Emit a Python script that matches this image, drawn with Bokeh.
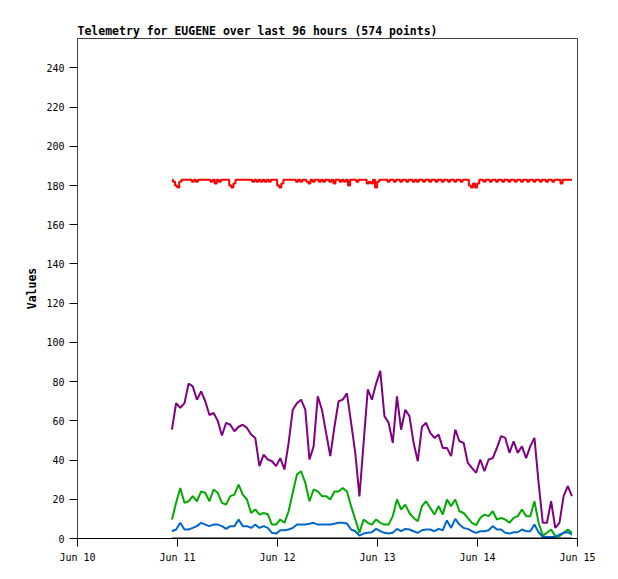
import pandas as pd
from bokeh.plotting import figure
from bokeh.models import Range1d, FixedTicker, DatetimeTickFormatter
from bokeh.embed import file_html
from bokeh.resources import INLINE

title_text = "Telemetry for EUGENE over last 96 hours (574 points)"
y_label = "Values"
y_ticks = [0, 20, 40, 60, 80, 100, 120, 140, 160, 180, 200, 220, 240]
day_ticks = ["2019-06-10", "2019-06-11", "2019-06-12", "2019-06-13", "2019-06-14", "2019-06-15"]
start_time = "2019-06-10 22:40"

# hourly samples (t = 0..96 h from start)
purple_vals = [55.5, 69, 66.6, 69, 79, 77.6, 70.8, 75, 70, 63, 64, 60,
               52.5, 59, 58, 54.7, 57, 58, 56.4, 53, 51.3, 36.9, 42.8, 40.3,
               39.4, 36.9, 41, 35.2, 48.8, 65.7, 69, 70.8, 65.7, 40.3, 47, 72.5,
               65.7, 53.9, 42, 57, 70, 70.8, 74, 59, 43.7, 21.5, 48.8, 76,
               70.8, 79, 85.5, 62.4, 59, 48.8, 72.5, 55.5, 65.7, 62.4, 48.8, 39.4,
               57, 59, 53.9, 51.3, 53, 46.2, 46.2, 42, 55.5, 49.6, 48.8, 38.6,
               36, 33.5, 40.3, 34.3, 40.3, 41, 46.2, 52.2, 51.3, 43.7, 49.6, 43.7,
               47, 41, 47, 51.3, 28.4, 8, 8, 19, 5.4, 8, 21.6, 26.7,
               21.6]

green_vals = [9.7, 18.2, 25.8, 18.2, 19, 21.6, 19, 24, 23.3, 19, 25, 23.3,
              18.2, 17.3, 21.6, 22.4, 27.5, 22.4, 19.9, 13, 14.8, 12.2, 13, 12.4,
              7.1, 7.1, 9.7, 8, 13.9, 23.3, 32.6, 34.3, 28.4, 19, 25, 24,
              21.6, 21.6, 19.9, 24, 24, 25.8, 24, 16.5, 9.7, 2.9, 9.7, 8,
              7.1, 9.7, 8, 7.1, 7.1, 11.4, 19.9, 14.8, 17.3, 13, 10.5, 8.8,
              16.5, 19, 15.6, 12.2, 16.5, 12.2, 19.9, 16.5, 19.9, 13.9, 13, 10.5,
              8, 6.8, 10.5, 12.2, 11.4, 13.9, 9.7, 10.5, 9.7, 8, 10.5, 11.4,
              14.8, 11.4, 11.4, 19, 8, 1.5, 2.9, 4.6, 1.2, 1.2, 2.9, 4.6,
              2.9]

blue_vals = [3.7, 4.6, 8, 4.6, 4.6, 5.4, 6.3, 8, 7.1, 6.3, 7.1, 7.1,
             6.3, 4.9, 6.3, 6.3, 9.7, 6.3, 6.3, 5.4, 7.1, 5.4, 6.3, 5.4,
             2.9, 2.5, 4.2, 4.2, 4.6, 5.4, 7.1, 7.1, 7.1, 7.5, 8, 7.1,
             7.1, 7.1, 7.1, 7.5, 8, 8, 7.6, 4.6, 3.7, 1.5, 2.5, 2.9,
             3.2, 4.9, 3.7, 2.9, 2.5, 2.9, 4.9, 3.7, 4.9, 4.6, 3.7, 2.9,
             4.2, 4.6, 4.6, 3.7, 4.9, 4.2, 9.2, 5.4, 10, 7.1, 5.4, 4.9,
             3.7, 2.9, 3.7, 3.7, 4.2, 6.3, 4.6, 4.6, 2.9, 2.5, 3.2, 3.2,
             4.6, 3.7, 3.7, 7.1, 3.2, 0.8, 0.8, 0.8, 0.8, 2, 2.9, 3.2,
             2]

# half-hourly samples (t = 0..96 h step 0.5)
red_vals = [183, 182, 180, 179, 182, 183, 183, 183, 183, 183, 182, 183, 182, 183, 183, 183, 183, 183, 183, 182, 183, 181, 183, 182,
            183, 183, 183, 183, 180, 179, 181, 183, 183, 183, 183, 183, 183, 183, 183, 182, 183, 182, 183, 182, 183, 182, 183, 182,
            183, 183, 183, 180, 179, 181, 183, 183, 183, 183, 183, 183, 182, 183, 182, 183, 183, 182, 181, 183, 182, 183, 183, 182,
            183, 182, 183, 183, 182, 183, 181, 183, 183, 182, 183, 182, 183, 180, 183, 183, 183, 182, 183, 183, 183, 183, 181, 182,
            181, 183, 179, 182, 183, 183, 183, 183, 182, 183, 183, 182, 183, 183, 182, 183, 183, 182, 183, 183, 182, 183, 182, 183,
            183, 182, 183, 183, 182, 183, 183, 182, 183, 183, 182, 183, 183, 182, 183, 183, 182, 183, 183, 182, 183, 183, 183, 180,
            179, 181, 179, 181, 183, 183, 182, 183, 183, 182, 183, 183, 182, 183, 183, 182, 183, 183, 182, 183, 183, 182, 183, 183,
            182, 183, 183, 182, 183, 183, 182, 183, 183, 182, 183, 183, 182, 183, 183, 182, 183, 183, 183, 181, 183, 183, 183, 183,
            183]

black_vals = [0, 0]

t0 = pd.Timestamp(start_time)
hourly_times = [t0 + pd.Timedelta(hours=h) for h in range(len(purple_vals))]
half_times = [t0 + pd.Timedelta(minutes=30 * h) for h in range(len(red_vals))]
black_times = [hourly_times[0], hourly_times[-1]]

p = figure(x_axis_type="datetime", frame_width=500, frame_height=500,
           min_border_left=77, min_border_top=38, min_border_right=31, min_border_bottom=32,
           x_range=Range1d(pd.Timestamp(day_ticks[0]), pd.Timestamp(day_ticks[-1])),
           y_range=Range1d(0, 255),
           output_backend="svg", toolbar_location=None)

p.title.text = title_text
p.title.text_font = "DejaVu Sans Mono"
p.title.text_font_style = "bold"
p.title.text_font_size = "11.5px"
p.title.text_color = "black"
p.title.offset = 0
p.title.standoff = 2

p.xgrid.grid_line_color = None
p.ygrid.grid_line_color = None
p.outline_line_color = "#404040"
p.outline_line_alpha = 1
p.outline_line_width = 1
p.background_fill_color = "white"
p.border_fill_color = "white"

ms_ticks = [pd.Timestamp(d).value / 1e6 for d in day_ticks]
p.xaxis.ticker = FixedTicker(ticks=ms_ticks)
p.xaxis.formatter = DatetimeTickFormatter(days="%b %d", months="%b %d", hours="%b %d", years="%b %d")
p.yaxis.ticker = FixedTicker(ticks=y_ticks)

for ax in (p.xaxis[0], p.yaxis[0]):
    ax.major_label_text_font = "DejaVu Sans Mono"
    ax.major_label_text_font_size = "10px"
    ax.major_label_text_color = "black"
    ax.major_tick_out = 8
    ax.major_tick_in = 0
    ax.major_tick_line_color = "black"
    ax.minor_tick_line_color = None
    ax.major_label_standoff = 5

p.xaxis.axis_line_color = "black"
p.yaxis.axis_line_color = "#404040"
p.yaxis.axis_label = y_label
p.yaxis.axis_label_text_font = "DejaVu Sans Mono"
p.yaxis.axis_label_text_font_style = "bold"
p.yaxis.axis_label_text_font_size = "11.5px"
p.yaxis.axis_label_text_color = "black"
p.yaxis.axis_label_standoff = 4

p.step(half_times, red_vals, line_color="#ff0000", line_width=2, mode="center")
p.line(hourly_times, purple_vals, line_color="#800080", line_width=2)
p.line(hourly_times, green_vals, line_color="#00aa00", line_width=2)
p.line(hourly_times, blue_vals, line_color="#0066cc", line_width=2)
p.line(black_times, black_vals, line_color="black", line_width=2)

open("out.html", "w").write(file_html(p, INLINE))
